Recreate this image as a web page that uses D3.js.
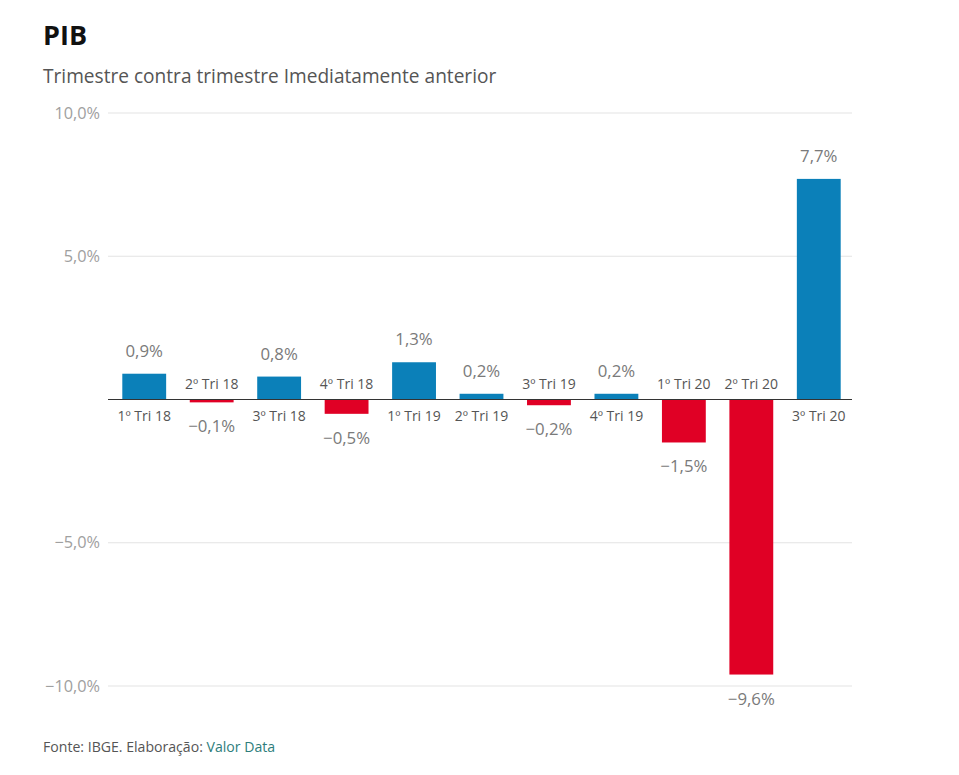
<!DOCTYPE html>
<html><head><meta charset="utf-8">
<script src="https://cdn.jsdelivr.net/npm/d3@7"></script>
<style>
body{margin:0;background:#fff;font-family:"Open Sans",sans-serif;}
</style></head>
<body>
<svg id="chart" width="959" height="775"></svg>
<script>
const categories = ["1º Tri 18","2º Tri 18","3º Tri 18","4º Tri 18","1º Tri 19","2º Tri 19","3º Tri 19","4º Tri 19","1º Tri 20","2º Tri 20","3º Tri 20"];
const values = [0.9,-0.1,0.8,-0.5,1.3,0.2,-0.2,0.2,-1.5,-9.6,7.7];
const yTicks = [10,5,0,-5,-10];

const svg = d3.select("#chart");
const fmt = v => (v<0?"\u2212":"") + Math.abs(v).toFixed(1).replace(".",",") + "%";

svg.append("text").attr("x",43).attr("y",45).attr("font-size",27).attr("font-weight",700).attr("fill","#111").text("PIB");
svg.append("text").attr("x",43).attr("y",83).attr("font-size",19.1).attr("fill","#555").text("Trimestre contra trimestre Imediatamente anterior");

const x = d3.scaleBand().domain(categories).range([110.5,852.5]).paddingInner(0.35).paddingOuter(0.175);
const y = d3.scaleLinear().domain([-10,10]).range([686,113]);

const g = svg.append("g");
g.selectAll("line.grid").data(yTicks.filter(t=>t!==0)).join("line")
 .attr("x1",108).attr("x2",852).attr("y1",d=>y(d)).attr("y2",d=>y(d))
 .attr("stroke","#e3e3e3").attr("stroke-width",1);
g.selectAll("text.tick").data(yTicks.filter(t=>t!==0)).join("text")
 .attr("x",100).attr("y",d=>y(d)).attr("dy","0.35em").attr("text-anchor","end")
 .attr("font-size",16.3).attr("fill","#a0a0a0").text(d=>fmt(d));

g.selectAll("rect.bar").data(values).join("rect")
 .attr("x",(d,i)=>x(categories[i])).attr("width",x.bandwidth())
 .attr("y",d=>y(Math.max(0,d))).attr("height",d=>Math.abs(y(d)-y(0)))
 .attr("fill",d=>d>=0?"#0b80b9":"#e00025");

g.append("line").attr("x1",108).attr("x2",852).attr("y1",y(0)).attr("y2",y(0)).attr("stroke","#333").attr("stroke-width",1.2);

g.selectAll("text.cat").data(values).join("text")
 .attr("x",(d,i)=>x(categories[i])+x.bandwidth()/2)
 .attr("y",d=>d>=0? y(0)+21 : y(0)-11)
 .attr("text-anchor","middle").attr("font-size",14).attr("fill","#555")
 .text((d,i)=>categories[i]);

g.selectAll("text.val").data(values).join("text")
 .attr("x",(d,i)=>x(categories[i])+x.bandwidth()/2)
 .attr("y",d=>d>=0? y(d)-17 : y(d)+30)
 .attr("text-anchor","middle").attr("font-size",16.8).attr("fill","#7a7a7a")
 .text(d=>fmt(d));

const foot = svg.append("text").attr("x",43).attr("y",752).attr("font-size",14.1).attr("fill","#555");
foot.append("tspan").text("Fonte: IBGE. Elaboração: ");
foot.append("tspan").attr("fill","#2e7d7b").text("Valor Data");
</script>
</body></html>
